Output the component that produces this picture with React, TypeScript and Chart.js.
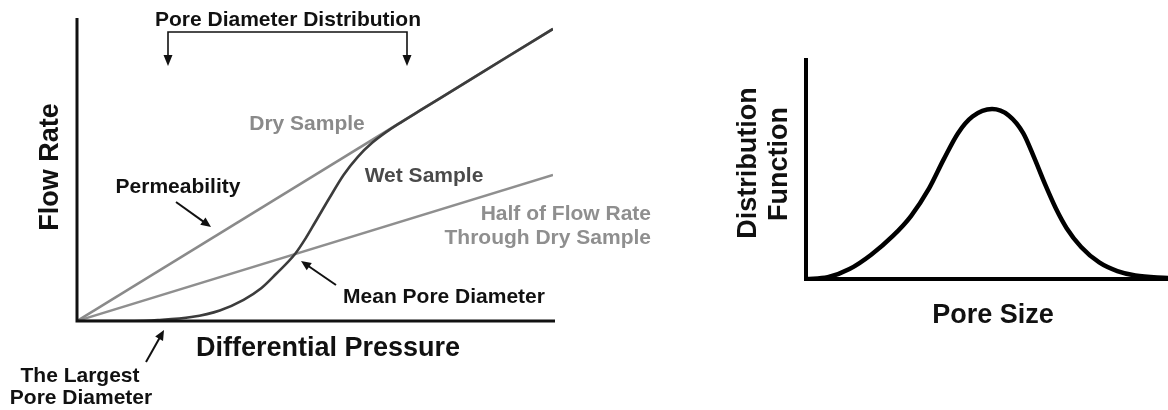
import React, { useEffect, useRef } from "react";
import { Chart, registerables } from "chart.js";

Chart.register(...registerables);

// Capillary flow porometry: flow rate against differential pressure
const pressureDry: number[] = [0, 100];
const flowDry: number[] = [0, 96.4];
const pressureHalf: number[] = [0, 100];
const flowHalf: number[] = [0, 48.2];
const pressureWet: number[] = [0, 12, 17, 24, 30, 35, 38.7, 41.8, 45.8, 48, 50, 53, 56, 59, 62, 65, 68, 72, 80, 90, 100];
const flowWet: number[] = [0, 0, 0.3, 1.3, 3.5, 7, 10.8, 15.5, 22.1, 27.2, 32.5, 40.5, 48.2, 54.2, 58.8, 62.4, 65.5, 69.4, 77.1, 86.8, 96.4];

// Pore size distribution curve
const poreSize: number[] = [0, 6, 12, 18, 24, 29, 34, 38, 42, 46, 51.4, 56, 60, 63, 66, 69, 72, 76, 81, 86, 91, 100];
const distribution: number[] = [0, 0.8, 4.5, 11, 19.5, 28.5, 41, 54, 66, 73.5, 76.9, 74, 66, 55, 43, 32, 23, 14.5, 7.5, 3.6, 1.6, 0.4];

const FONT = '"Liberation Sans", Arial, sans-serif';

const toPoints = (xs: number[], ys: number[]) => xs.map((x, i) => ({ x, y: ys[i] }));

function arrow(ctx: CanvasRenderingContext2D, x1: number, y1: number, x2: number, y2: number, color = "#111") {
  const ang = Math.atan2(y2 - y1, x2 - x1);
  const head = 10;
  const half = 4.5;
  ctx.save();
  ctx.strokeStyle = color;
  ctx.fillStyle = color;
  ctx.lineWidth = 2;
  ctx.beginPath();
  ctx.moveTo(x1, y1);
  ctx.lineTo(x2 - Math.cos(ang) * head * 0.8, y2 - Math.sin(ang) * head * 0.8);
  ctx.stroke();
  ctx.beginPath();
  ctx.moveTo(x2, y2);
  ctx.lineTo(x2 - Math.cos(ang) * head - Math.sin(ang) * half, y2 - Math.sin(ang) * head + Math.cos(ang) * half);
  ctx.lineTo(x2 - Math.cos(ang) * head + Math.sin(ang) * half, y2 - Math.sin(ang) * head - Math.cos(ang) * half);
  ctx.closePath();
  ctx.fill();
  ctx.restore();
}

function text(ctx: CanvasRenderingContext2D, s: string, x: number, y: number, size: number, color: string, align: CanvasTextAlign = "center", rotate = 0) {
  ctx.save();
  ctx.font = `bold ${size}px ${FONT}`;
  ctx.fillStyle = color;
  ctx.textAlign = align;
  ctx.textBaseline = "middle";
  ctx.translate(x, y);
  if (rotate) ctx.rotate(rotate);
  ctx.fillText(s, 0, 0);
  ctx.restore();
}

const flowPlugin = {
  id: "flowDecor",
  afterDatasetsDraw(chart: Chart) {
    const ctx = chart.ctx;
    const { left, right, top, bottom } = chart.chartArea;
    ctx.save();
    ctx.strokeStyle = "#111";
    ctx.lineWidth = 3;
    ctx.lineCap = "butt";
    ctx.beginPath();
    ctx.moveTo(left, top);
    ctx.lineTo(left, bottom + 1.5);
    ctx.moveTo(left - 1.5, bottom);
    ctx.lineTo(right + 2, bottom);
    ctx.stroke();

    // bracket over the pore diameter distribution range
    ctx.lineWidth = 1.6;
    ctx.beginPath();
    ctx.moveTo(168, 57);
    ctx.lineTo(168, 32);
    ctx.lineTo(407, 32);
    ctx.lineTo(407, 57);
    ctx.stroke();
    ctx.fillStyle = "#111";
    for (const bx of [168, 407]) {
      ctx.beginPath();
      ctx.moveTo(bx - 4.5, 55);
      ctx.lineTo(bx + 4.5, 55);
      ctx.lineTo(bx, 66);
      ctx.closePath();
      ctx.fill();
    }
    ctx.restore();

    text(ctx, "Pore Diameter Distribution", 288, 20, 21, "#111");
    text(ctx, "Dry Sample", 307, 124, 21, "#8a8a8a");
    text(ctx, "Wet Sample", 424, 176, 21, "#4a4a4a");
    text(ctx, "Permeability", 178, 187, 21, "#111");
    text(ctx, "Half of Flow Rate", 651, 214, 21, "#8f8f8f", "right");
    text(ctx, "Through Dry Sample", 651, 238, 21, "#8f8f8f", "right");
    text(ctx, "Mean Pore Diameter", 444, 297, 21, "#111");
    text(ctx, "Differential Pressure", 328, 349, 27, "#111");
    text(ctx, "Flow Rate", 51, 167, 27, "#111", "center", -Math.PI / 2);
    text(ctx, "The Largest", 80, 376, 21, "#111");
    text(ctx, "Pore Diameter", 81, 398, 21, "#111");

    arrow(ctx, 176, 202, 211, 227);
    arrow(ctx, 336, 285, 301, 261);
    arrow(ctx, 146, 362, 164, 330);
  },
};

const distPlugin = {
  id: "distDecor",
  afterDatasetsDraw(chart: Chart) {
    const ctx = chart.ctx;
    const { left, right, top, bottom } = chart.chartArea;
    ctx.save();
    ctx.strokeStyle = "#000";
    ctx.lineWidth = 4;
    ctx.beginPath();
    ctx.moveTo(left, top);
    ctx.lineTo(left, bottom + 2);
    ctx.moveTo(left - 2, bottom);
    ctx.lineTo(right, bottom);
    ctx.stroke();
    ctx.restore();

    text(ctx, "Distribution", 49, 163, 27, "#111", "center", -Math.PI / 2);
    text(ctx, "Function", 80, 164, 27, "#111", "center", -Math.PI / 2);
    text(ctx, "Pore Size", 293, 316, 27, "#111");
  },
};

const hiddenScales = {
  x: { type: "linear" as const, min: 0, max: 100, display: false },
  y: { type: "linear" as const, min: 0, max: 100, display: false },
};

export default function App() {
  const flowRef = useRef<HTMLCanvasElement>(null);
  const distRef = useRef<HTMLCanvasElement>(null);

  useEffect(() => {
    const flowChart = new Chart(flowRef.current!, {
      type: "line",
      data: {
        datasets: [
          {
            label: "Wet Sample",
            data: toPoints(pressureWet, flowWet),
            borderColor: "#3c3c3c",
            borderWidth: 2.6,
            pointRadius: 0,
            cubicInterpolationMode: "monotone",
          },
          {
            label: "Dry Sample",
            data: toPoints(pressureDry, flowDry),
            borderColor: "#8a8a8a",
            borderWidth: 2.6,
            pointRadius: 0,
          },
          {
            label: "Half of Flow Rate Through Dry Sample",
            data: toPoints(pressureHalf, flowHalf),
            borderColor: "#8f8f8f",
            borderWidth: 2.4,
            pointRadius: 0,
          },
        ],
      },
      options: {
        responsive: false,
        animation: false,
        devicePixelRatio: 1,
        layout: { padding: { left: 77, right: 147, top: 18, bottom: 89 } },
        scales: hiddenScales,
        plugins: { legend: { display: false }, tooltip: { enabled: false } },
      },
      plugins: [flowPlugin],
    });

    const distChart = new Chart(distRef.current!, {
      type: "line",
      data: {
        datasets: [
          {
            label: "Distribution Function",
            data: toPoints(poreSize, distribution),
            borderColor: "#000",
            borderWidth: 4.5,
            pointRadius: 0,
            cubicInterpolationMode: "monotone",
          },
        ],
      },
      options: {
        responsive: false,
        animation: false,
        devicePixelRatio: 1,
        layout: { padding: { left: 106, right: 0, top: 58, bottom: 131 } },
        scales: hiddenScales,
        plugins: { legend: { display: false }, tooltip: { enabled: false } },
      },
      plugins: [distPlugin],
    });

    return () => {
      flowChart.destroy();
      distChart.destroy();
    };
  }, []);

  return (
    <div style={{ position: "fixed", left: 0, top: 0, width: 1168, height: 410, background: "#fff" }}>
      <canvas ref={flowRef} width={700} height={410} style={{ position: "absolute", left: 0, top: 0 }} />
      <canvas ref={distRef} width={468} height={410} style={{ position: "absolute", left: 700, top: 0 }} />
    </div>
  );
}
